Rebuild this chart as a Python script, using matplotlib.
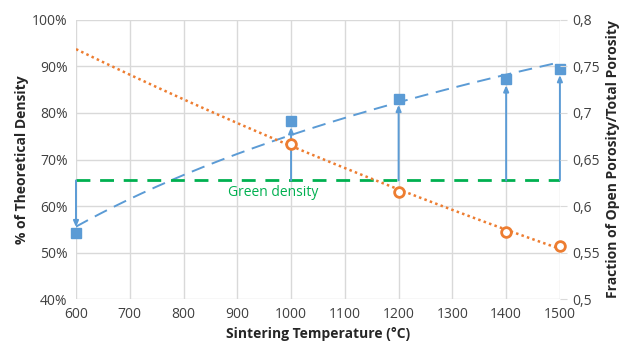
import numpy as np
import matplotlib
matplotlib.use("Agg")
import matplotlib.pyplot as plt
from matplotlib.ticker import FuncFormatter

# data
temps = [600, 1000, 1200, 1400, 1500]
density = [54.1, 78.3, 83.1, 87.3, 89.5]          # % of theoretical density
por_temps = [1000, 1200, 1400, 1500]
open_frac = [0.667, 0.615, 0.572, 0.557]          # open/total porosity
green_density = 65.5

blue = "#5B9BD5"
orange = "#ED7D31"
green = "#00B050"
grey = "#D9D9D9"

plt.rcParams['font.family'] = ['Open Sans', 'DejaVu Sans']

fig = plt.figure(figsize=(6.27, 3.55), dpi=100)
ax = fig.add_axes([0.1212, 0.1577, 0.7718, 0.7860])
ax2 = ax.twinx()

# trendlines like excel: log fit for density, exponential for porosity
xx = np.linspace(600, 1500, 200)
a, b = np.polyfit(np.log(temps), density, 1)
ax.plot(xx, a * np.log(xx) + b, color=blue, lw=1.4, dashes=(7, 4), zorder=3)
c, d = np.polyfit(por_temps, np.log(open_frac), 1)
ax2.plot(xx, np.exp(c * xx + d), color=orange, lw=1.8, ls=(0, (1, 1.3)), zorder=3)

ax.axhline(green_density, color=green, lw=2, dashes=(5, 3.5), zorder=4)
ax.text(883, 62.8, "Green density", color=green, fontsize=10, va="center", ha="left")

for t, dv in zip(temps, density):
    ax.annotate("", xy=(t, dv), xytext=(t, green_density),
                arrowprops=dict(arrowstyle="-|>,head_length=0.35,head_width=0.15",
                                color=blue, lw=1.4, shrinkA=0, shrinkB=4.5), zorder=4)

ax.plot(temps, density, ls="none", marker="s", ms=7, color=blue, zorder=5, clip_on=False)
ax2.plot(por_temps, open_frac, ls="none", marker="o", ms=7, mfc="white",
         mec=orange, mew=2, zorder=5, clip_on=False)

ax.set_xlim(600, 1500)
ax.set_ylim(40, 100)
ax2.set_ylim(0.5, 0.8)
ax.set_xticks(range(600, 1501, 100))
ax.set_yticks(range(40, 101, 10))
ax2.set_yticks([0.5, 0.55, 0.6, 0.65, 0.7, 0.75, 0.8])
ax.yaxis.set_major_formatter(FuncFormatter(lambda v, p: "%d%%" % v))
ax2.yaxis.set_major_formatter(FuncFormatter(lambda v, p: ("%g" % v).replace(".", ",")))

ax.grid(True, color=grey, lw=1)
ax.set_axisbelow(True)
for s in ax.spines.values():
    s.set_visible(False)
for s in ax2.spines.values():
    s.set_visible(False)
ax.tick_params(length=0, labelsize=10, colors="#404040", pad=6)
ax2.tick_params(length=5, color=grey, labelsize=10, colors="#404040", pad=4)
ax2.tick_params(axis="y", color=grey)

ax.set_xlabel("Sintering Temperature (°C)", fontsize=10, fontweight="bold", color="#262626", labelpad=3)
ax.set_ylabel("% of Theoretical Density", fontsize=10, fontweight="bold", color="#262626", labelpad=2)
ax2.set_ylabel("Fraction of Open Porosity/Total Porosity", fontsize=10, fontweight="bold", color="#262626", labelpad=4)

fig.savefig("out.png", dpi=100)
